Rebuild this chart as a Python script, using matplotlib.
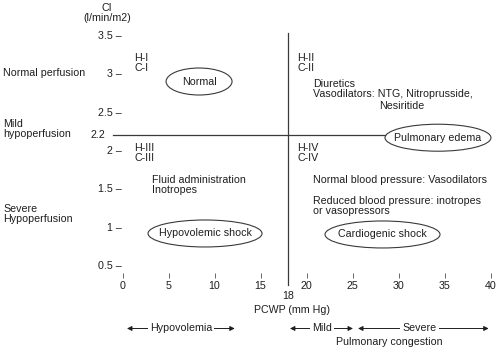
import matplotlib.pyplot as plt
from matplotlib.patches import Ellipse

plt.rcParams['font.family'] = ['Liberation Sans', 'DejaVu Sans']
plt.rcParams['font.size'] = 7.7

INK = '#1e1e1e'
LINE = '#3a3a3a'

# axis values
x_ticks = [0, 5, 10, 15, 20, 25, 30, 35, 40]
y_ticks = [0.5, 1, 1.5, 2, 2.5, 3, 3.5]
y_tick_labels = ['0.5 \u2013', '1 \u2013', '1.5 \u2013', '2 \u2013', '2.5 \u2013', '3 \u2013', '3.5 \u2013']

# thresholds
pcwp_cut = 18
ci_cut = 2.2

# ellipse boxes: label, centre, size
boxes = ['Normal', 'Pulmonary edema', 'Hypovolemic shock', 'Cardiogenic shock']
box_x = [8.32, 34.29, 8.97, 28.26]
box_y = [2.893, 2.16, 0.911, 0.898]
box_w = [7.17, 11.52, 12.39, 12.5]
box_h = [0.352, 0.352, 0.352, 0.352]

# quadrant notes: text, x, y
notes = [
    ('H-I\nC-I', 1.25, 3.13),
    ('H-II\nC-II', 19.02, 3.13),
    ('H-III\nC-III', 1.25, 1.955),
    ('H-IV\nC-IV', 19.02, 1.955),
    ('Diuretics\nVasodilators: NTG, Nitroprusside,', 20.7, 2.80),
    ('Nesiritide', 27.9, 2.574),
    ('Fluid administration\nInotropes', 3.2, 1.537),
    ('Normal blood pressure: Vasodilators', 20.7, 1.61),
    ('Reduced blood pressure: inotropes\nor vasopressors', 20.7, 1.263),
]

# bottom range arrows: label, start, end, text centre
ranges = [
    ('Hypovolemia', 0.49, 12.2, 6.36),
    ('Mild', 18.2, 25.05, 21.7),
    ('Severe', 25.6, 39.8, 32.3),
]

fig = plt.figure(figsize=(5, 3.49), dpi=100)
ax = fig.add_axes([0, 0, 1, 1])
ax.set_xlim(-13.315, 41.03)
ax.set_ylim(-0.5956, 3.956)

for s in ax.spines.values():
    s.set_visible(False)
ax.spines['left'].set_position(('data', 0))
ax.spines['bottom'].set_position(('data', 0.3957))

ax.set_xticks(x_ticks)
ax.set_xticklabels([str(v) for v in x_ticks])
ax.tick_params(axis='x', direction='out', length=3.6, width=0.7, color='#666666',
               pad=2.5, labelsize=7.7, labelcolor=INK)
ax.set_yticks(y_ticks)
ax.set_yticklabels(y_tick_labels)
ax.tick_params(axis='y', length=0, pad=0.8, labelsize=7.7, labelcolor=INK)

# threshold lines
ax.plot([pcwp_cut, pcwp_cut], [0.239, 3.526], color=LINE, lw=0.9)
ax.plot([-1.03, box_x[1] - box_w[1] / 2], [ci_cut, ci_cut], color=LINE, lw=0.9)

for lab, cx, cy, w, h in zip(boxes, box_x, box_y, box_w, box_h):
    ax.add_patch(Ellipse((cx, cy), w, h, facecolor='white', edgecolor=LINE, lw=0.8))
    ax.text(cx, cy, lab, ha='center', va='center', color=INK)

for txt, x, y in notes:
    ax.text(x, y, txt, ha='left', va='center', color=INK, linespacing=1.0)

# axis titles and side labels
ax.text(-1.68, 3.79, 'CI\n(l/min/m2)', ha='center', va='center', color=INK, linespacing=1.0)
ax.text(-12.99, 3.0, 'Normal perfusion', ha='left', va='center', color=INK)
ax.text(-12.99, 2.274, 'Mild\nhypoperfusion', ha='left', va='center', color=INK, linespacing=1.0)
ax.text(-12.99, 1.165, 'Severe\nHypoperfusion', ha='left', va='center', color=INK, linespacing=1.0)
ax.text(-1.9, ci_cut, '2.2', ha='right', va='center', color=INK)
ax.text(pcwp_cut, 0.096, '18', ha='center', va='center', color=INK)
ax.text(18.4, -0.087, 'PCWP (mm Hg)', ha='center', va='center', color=INK)
ax.text(28.97, -0.504, 'Pulmonary congestion', ha='center', va='center', color=INK)

for lab, x0, x1, xc in ranges:
    ax.annotate('', xy=(x0, -0.328), xytext=(x1, -0.328),
                arrowprops=dict(arrowstyle='<|-|>', color=INK, lw=0.7,
                                mutation_scale=7, shrinkA=0, shrinkB=0))
    ax.text(xc, -0.328, lab, ha='center', va='center', color=INK,
            bbox=dict(boxstyle='square,pad=0.2', facecolor='white', edgecolor='none'))

fig.savefig('out.png', dpi=100)
